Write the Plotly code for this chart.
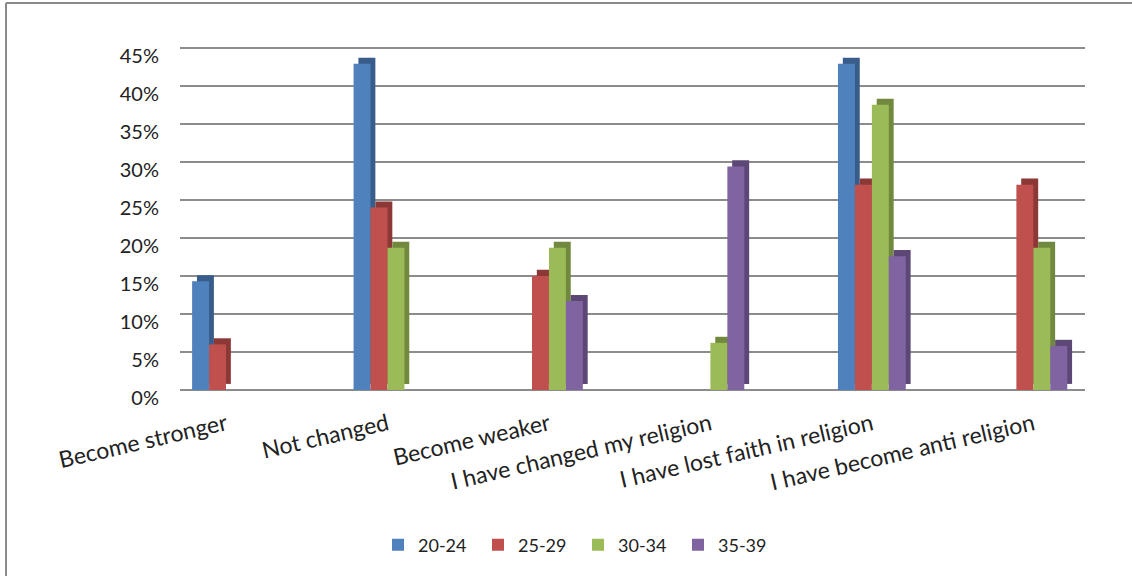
import plotly.graph_objects as go

categories = ["Become stronger", "Not changed", "Become weaker",
              "I have changed my religion", "I have lost faith in religion",
              "I have become anti religion"]
series_names = ["20-24", "25-29", "30-34", "35-39"]
v_20_24 = [14.3, 42.9, 0, 0, 42.9, 0]
v_25_29 = [6.0, 24.0, 15.0, 0, 27.0, 27.0]
v_30_34 = [0, 18.7, 18.7, 6.2, 37.5, 18.7]
v_35_39 = [0, 0, 11.7, 29.4, 17.6, 5.8]
tick_vals = [0, 5, 10, 15, 20, 25, 30, 35, 40, 45]
tick_text = ["0%", "5%", "10%", "15%", "20%", "25%", "30%", "35%", "40%", "45%"]

all_values = [v_20_24, v_25_29, v_30_34, v_35_39]
face_colors = ["#4F81BD", "#C0504D", "#9BBB59", "#8064A2"]
side_colors = ["#385D8A", "#8C3836", "#71893F", "#5C4776"]

BAR_W = 0.105
GROUP_START = -0.21
DEPTH_X = 0.03
DEPTH_Y = 0.8

fig = go.Figure()

def clean(vals):
    return [v if v else None for v in vals]

# side faces (fake depth) first
for k, vals in enumerate(all_values):
    fig.add_trace(go.Bar(
        x=categories, y=clean(vals), base=DEPTH_Y,
        offset=GROUP_START + k * BAR_W + DEPTH_X, width=BAR_W,
        marker=dict(color=side_colors[k], line=dict(width=0)),
        showlegend=False, hoverinfo="skip"))

for k, vals in enumerate(all_values):
    fig.add_trace(go.Bar(
        x=categories, y=clean(vals), name=series_names[k],
        offset=GROUP_START + k * BAR_W, width=BAR_W,
        marker=dict(color=face_colors[k], line=dict(width=0))))

PL, PR, PT, PB = 180, 1085, 44, 390
PW, PH = PR - PL, PB - PT

fig.update_layout(
    width=1132, height=576,
    barmode="overlay",
    paper_bgcolor="white", plot_bgcolor="white",
    margin=dict(l=PL, r=1132 - PR, t=PT, b=576 - PB),
    font=dict(family="Lato, 'Open Sans', sans-serif", size=19, color="#222222"),
    xaxis=dict(
        type="category", range=[-0.285, 5.32],
        tickangle=-13, showgrid=False, showline=False, ticks="",
        tickfont=dict(size=23), automargin=False, ticklabelstandoff=16,
    ),
    yaxis=dict(
        range=[0, 45.5], tickvals=tick_vals, ticktext=tick_text,
        showgrid=True, gridcolor="#8c8c8c", gridwidth=2,
        zeroline=True, zerolinecolor="#8c8c8c", zerolinewidth=2,
        showline=False, ticks="", ticklabelstandoff=20, ticklabelshift=8,
        tickfont=dict(size=20), automargin=False,
    ),
    legend=dict(orientation="h", x=(578 - PL) / PW, xanchor="center",
                y=(PB - 545) / PH, yanchor="middle", font=dict(size=18),
                traceorder="normal", entrywidth=55, entrywidthmode="pixels"),
    shapes=[
        dict(type="line", xref="paper", yref="paper",
             x0=(6 - PL) / PW, x1=(6 - PL) / PW,
             y0=(PB - 576) / PH, y1=1 + (PT - 3) / PH,
             line=dict(color="#8a8a8a", width=2)),
        dict(type="line", xref="paper", yref="paper",
             x0=(6 - PL) / PW, x1=(1132 - PL) / PW,
             y0=1 + (PT - 3) / PH, y1=1 + (PT - 3) / PH,
             line=dict(color="#8a8a8a", width=2)),
    ],
)

fig.write_html("out.html",
               config={"displayModeBar": False},
               post_script="document.body.style.margin='0';"
                           "document.body.style.overflow='hidden';")
